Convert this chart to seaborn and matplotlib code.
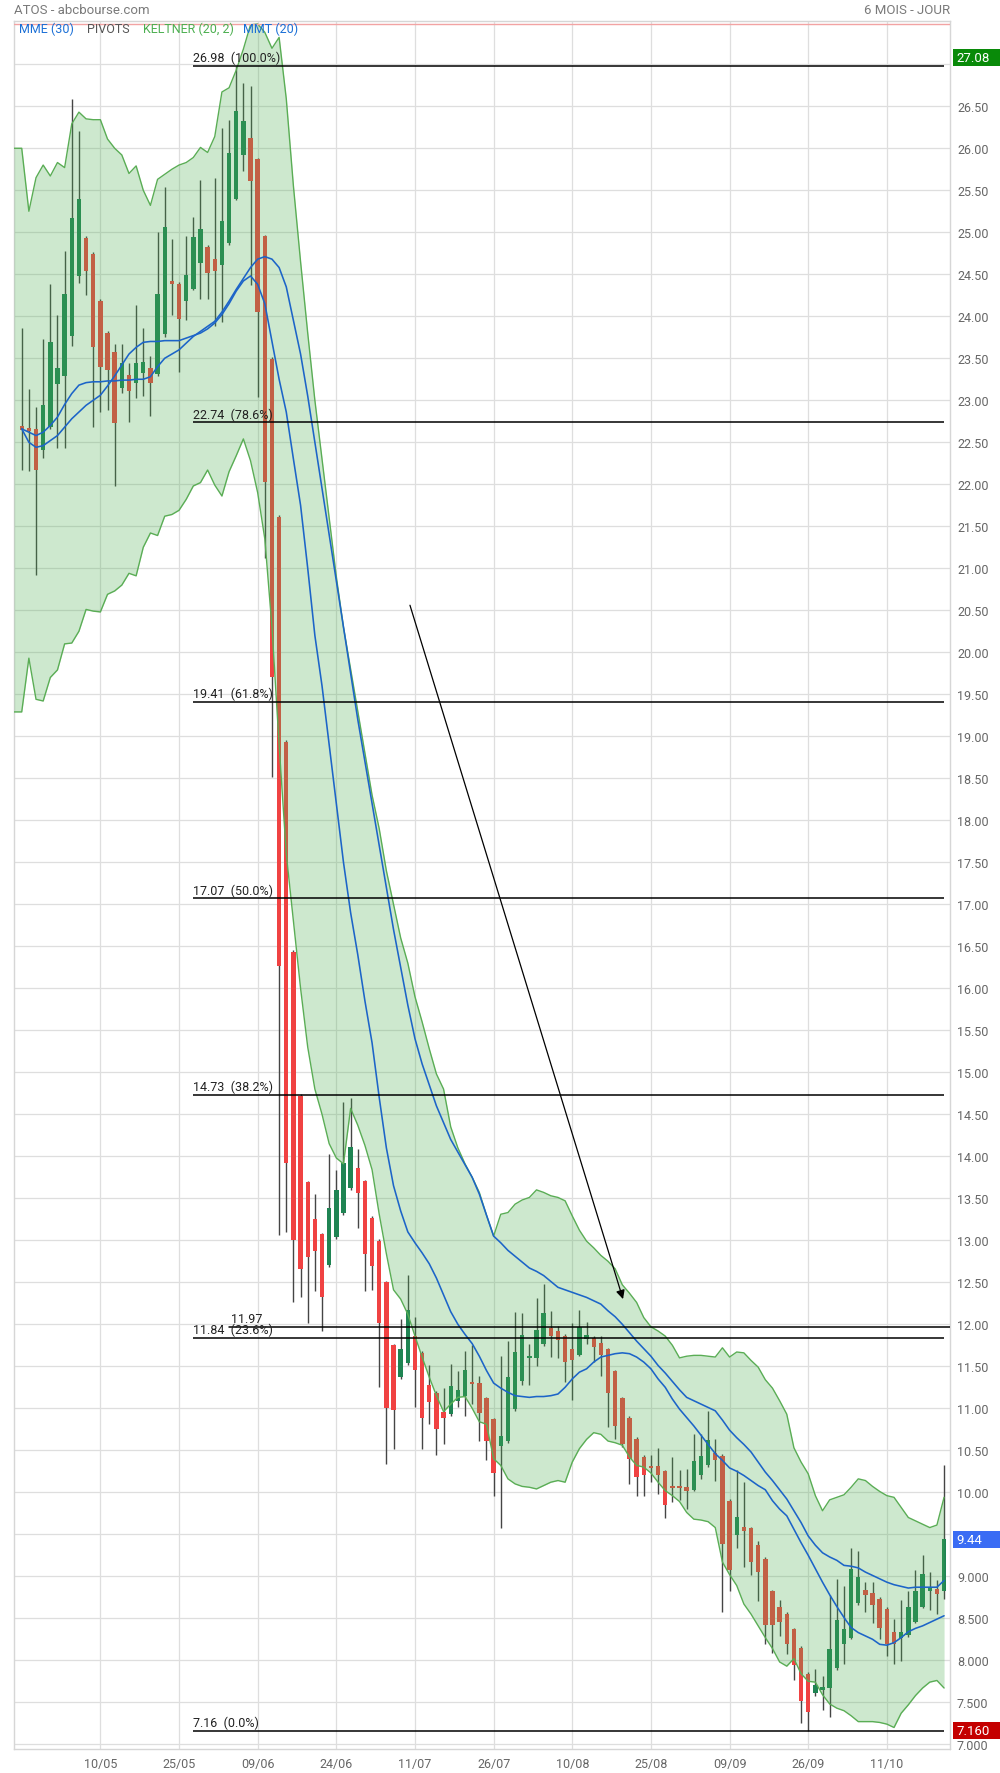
import numpy as np
import pandas as pd
import matplotlib
matplotlib.use("Agg")
import matplotlib.pyplot as plt
import matplotlib.transforms as mtransforms
from matplotlib.patches import Rectangle
import seaborn as sns

# ---------------- data ----------------
first_day = "2022-04-25"

opens = [22.69, 22.67, 22.66, 22.41, 22.68, 23.19, 23.29, 23.77, 24.48, 24.93,
         24.74, 24.18, 23.80, 23.58, 23.15, 23.30, 23.21, 23.32, 23.39, 23.31,
         23.79, 24.42, 24.39, 24.18, 24.33, 24.63, 24.83, 24.68, 24.61, 24.87,
         25.40, 25.92, 26.12, 25.87, 24.95, 23.49, 21.61, 18.93, 16.43, 14.72,
         13.69, 13.25, 13.07, 12.70, 13.04, 13.32, 13.62, 13.86, 13.70, 13.27,
         12.99, 12.50, 11.75, 11.37, 11.54, 11.86, 11.66, 11.28, 11.18, 10.96,
         10.93, 11.09, 11.15, 11.31, 11.30, 11.12, 10.87, 10.55, 10.61, 10.99,
         11.33, 11.60, 11.60, 11.76, 11.96, 11.92, 11.86, 11.70, 11.64, 11.82,
         11.84, 11.78, 11.70, 11.44, 11.12, 10.89, 10.64, 10.42, 10.31, 10.31,
         10.25, 10.06, 10.06, 10.06, 10.03, 10.20, 10.32, 10.47, 10.43, 9.90,
         9.49, 9.59, 9.57, 9.37, 9.21, 8.82, 8.63, 8.55, 8.37, 8.15,
         7.84, 7.61, 7.65, 7.67, 7.91, 8.19, 8.27, 8.68, 8.84, 8.80,
         8.73, 8.61, 8.34, 8.27, 8.30, 8.46, 8.64, 8.83, 8.85, 8.82]
highs = [23.86, 23.13, 22.92, 23.73, 24.38, 24.02, 24.78, 26.59, 26.21, 24.95,
         24.76, 24.20, 23.82, 23.67, 23.67, 23.44, 24.13, 23.86, 23.53, 25.00,
         25.54, 24.92, 24.41, 24.95, 25.18, 25.62, 24.85, 25.65, 26.24, 26.34,
         26.98, 26.78, 26.74, 25.89, 24.97, 23.51, 21.63, 18.95, 16.45, 14.74,
         13.71, 13.55, 13.09, 14.03, 13.84, 14.65, 14.69, 14.09, 13.72, 13.29,
         13.01, 12.52, 11.77, 12.06, 12.59, 12.09, 11.68, 11.51, 11.20, 11.24,
         11.53, 11.44, 11.68, 11.75, 11.38, 11.14, 10.89, 11.62, 11.80, 12.15,
         12.14, 11.76, 12.31, 12.48, 12.16, 11.98, 11.88, 12.01, 12.17, 12.03,
         11.86, 11.86, 11.72, 11.46, 11.14, 10.91, 10.66, 10.44, 10.44, 10.53,
         10.27, 10.42, 10.27, 10.28, 10.69, 10.69, 10.97, 10.63, 10.45, 9.92,
         10.26, 10.12, 9.59, 9.42, 9.23, 8.84, 8.72, 8.57, 8.39, 8.17,
         7.86, 7.90, 7.81, 8.78, 8.97, 8.89, 9.34, 9.30, 8.93, 8.93,
         8.75, 8.63, 8.49, 8.72, 8.83, 9.07, 9.25, 9.05, 8.96, 10.32]
lows = [22.17, 22.16, 20.92, 22.31, 22.66, 22.43, 22.43, 23.65, 24.40, 24.25,
        22.68, 22.86, 22.89, 21.98, 23.09, 22.74, 23.03, 23.05, 22.81, 23.29,
        23.75, 24.02, 23.34, 23.96, 24.31, 24.21, 24.21, 23.89, 23.93, 24.85,
        25.38, 25.73, 24.37, 23.04, 21.12, 18.51, 13.06, 13.10, 12.27, 12.33,
        12.02, 12.40, 11.92, 12.68, 13.02, 13.30, 13.60, 13.15, 12.40, 12.41,
        11.25, 10.34, 10.51, 11.35, 11.52, 11.02, 10.52, 10.81, 10.44, 10.58,
        10.91, 11.01, 10.91, 11.05, 10.61, 10.39, 9.95, 9.57, 10.59, 10.97,
        11.28, 11.28, 11.50, 11.74, 11.61, 11.60, 11.31, 11.10, 11.62, 11.77,
        11.55, 11.39, 10.78, 10.63, 10.54, 10.10, 9.95, 9.96, 10.12, 9.98,
        9.69, 9.89, 9.91, 9.80, 10.01, 10.16, 10.30, 10.13, 8.57, 8.83,
        9.34, 9.11, 9.01, 8.71, 8.19, 8.09, 8.29, 8.07, 7.76, 7.25,
        7.16, 7.58, 7.41, 7.32, 7.89, 7.96, 8.25, 8.66, 8.57, 8.44,
        8.25, 8.05, 7.96, 7.99, 8.28, 8.44, 8.62, 8.60, 8.55, 8.73]
closes = [22.65, 22.64, 22.17, 22.94, 23.69, 23.39, 24.27, 25.17, 25.40, 24.54,
          23.63, 23.40, 23.36, 22.73, 23.44, 23.11, 23.44, 23.46, 23.21, 24.27,
          25.06, 24.38, 23.97, 24.49, 24.94, 25.04, 24.51, 24.54, 25.13, 25.94,
          26.44, 26.32, 25.61, 24.05, 22.03, 19.71, 16.27, 13.92, 13.00, 12.66,
          12.80, 12.87, 12.33, 13.39, 13.60, 13.92, 14.11, 13.56, 12.84, 12.69,
          12.02, 11.00, 10.98, 11.71, 12.17, 11.46, 10.89, 11.08, 10.75, 10.88,
          11.26, 11.22, 11.45, 11.29, 10.94, 10.61, 10.23, 10.67, 11.37, 11.67,
          11.87, 11.62, 11.93, 12.13, 11.86, 11.81, 11.55, 11.58, 11.97, 11.87,
          11.73, 11.63, 11.18, 10.79, 10.57, 10.40, 10.18, 10.20, 10.29, 10.20,
          9.85, 10.05, 10.05, 10.02, 10.37, 10.43, 10.62, 10.38, 9.39, 9.07,
          9.70, 9.54, 9.17, 9.05, 8.42, 8.42, 8.46, 8.19, 7.94, 7.52,
          7.39, 7.71, 7.68, 8.13, 8.48, 8.37, 9.09, 8.99, 8.78, 8.66,
          8.38, 8.19, 8.19, 8.34, 8.63, 8.82, 9.03, 8.85, 8.79, 9.44]

keltner_upper = [26.00, 25.25, 25.65, 25.80, 25.67, 25.83, 25.77, 26.29, 26.43, 26.35,
                 26.34, 26.34, 26.11, 26.00, 25.92, 25.70, 25.79, 25.50, 25.32, 25.63,
                 25.69, 25.75, 25.80, 25.83, 25.89, 26.01, 25.95, 26.14, 26.67, 26.72,
                 26.93, 27.18, 27.47, 27.48, 27.38, 27.19, 27.32, 26.59, 25.55, 24.65,
                 23.80, 23.00, 22.30, 21.60, 20.90, 20.30, 19.80, 19.30, 18.80, 18.30,
                 17.90, 17.40, 17.00, 16.60, 16.30, 15.90, 15.60, 15.28, 14.98, 14.80,
                 14.35, 14.10, 13.91, 13.75, 13.57, 13.30, 13.05, 13.31, 13.33, 13.43,
                 13.48, 13.51, 13.60, 13.57, 13.53, 13.51, 13.47, 13.29, 13.12, 12.99,
                 12.91, 12.82, 12.75, 12.66, 12.47, 12.37, 12.26, 12.08, 11.97, 11.92,
                 11.86, 11.75, 11.60, 11.62, 11.63, 11.63, 11.62, 11.61, 11.72, 11.61,
                 11.67, 11.66, 11.57, 11.49, 11.34, 11.24, 11.09, 10.93, 10.53, 10.36,
                 10.22, 9.96, 9.78, 9.91, 9.94, 9.97, 10.06, 10.16, 10.14, 10.07,
                 10.01, 9.96, 9.94, 9.82, 9.70, 9.66, 9.62, 9.58, 9.61, 9.94]
keltner_lower = [19.29, 19.93, 19.44, 19.42, 19.70, 19.79, 20.10, 20.11, 20.25, 20.51,
                 20.49, 20.48, 20.69, 20.73, 20.80, 20.94, 20.91, 21.25, 21.42, 21.39,
                 21.62, 21.64, 21.69, 21.82, 21.98, 22.02, 22.17, 21.99, 21.86, 22.15,
                 22.34, 22.54, 22.28, 21.90, 21.35, 20.30, 18.90, 17.60, 16.80, 16.00,
                 15.30, 14.80, 14.50, 14.15, 13.98, 13.91, 14.57, 14.37, 14.13, 13.84,
                 13.31, 12.84, 12.41, 12.30, 12.12, 11.86, 11.61, 11.37, 11.15, 10.96,
                 11.05, 11.13, 11.14, 11.00, 10.84, 10.81, 10.40, 10.32, 10.16, 10.10,
                 10.07, 10.06, 10.04, 10.08, 10.12, 10.14, 10.12, 10.36, 10.52, 10.63,
                 10.71, 10.69, 10.61, 10.59, 10.56, 10.42, 10.32, 10.30, 10.23, 10.12,
                 10.02, 9.96, 9.89, 9.76, 9.68, 9.67, 9.65, 9.58, 9.17, 9.02,
                 8.89, 8.67, 8.55, 8.41, 8.27, 8.14, 7.98, 7.93, 8.02, 7.84,
                 7.75, 7.74, 7.59, 7.48, 7.43, 7.40, 7.34, 7.27, 7.27, 7.27,
                 7.26, 7.24, 7.20, 7.37, 7.47, 7.58, 7.67, 7.74, 7.76, 7.67]
mmt_20 = [22.66, 22.50, 22.44, 22.46, 22.52, 22.58, 22.68, 22.78, 22.86, 22.94,
          23.00, 23.06, 23.17, 23.29, 23.42, 23.55, 23.63, 23.69, 23.70, 23.70,
          23.71, 23.71, 23.71, 23.74, 23.77, 23.80, 23.85, 23.92, 24.02, 24.15,
          24.30, 24.42, 24.48, 24.38, 24.15, 23.70, 23.25, 22.86, 22.30, 21.75,
          21.00, 20.20, 19.60, 18.90, 18.20, 17.50, 16.90, 16.40, 15.85, 15.35,
          14.70, 14.10, 13.65, 13.35, 13.10, 12.97, 12.85, 12.72, 12.55, 12.35,
          12.15, 12.00, 11.88, 11.77, 11.62, 11.45, 11.30, 11.24, 11.19, 11.15,
          11.14, 11.13, 11.14, 11.14, 11.15, 11.17, 11.25, 11.35, 11.43, 11.47,
          11.55, 11.61, 11.63, 11.65, 11.66, 11.65, 11.61, 11.55, 11.47, 11.35,
          11.25, 11.11, 10.99, 10.89, 10.79, 10.68, 10.57, 10.46, 10.38, 10.29,
          10.25, 10.20, 10.14, 10.08, 10.03, 9.90, 9.80, 9.72, 9.56, 9.40,
          9.25, 9.09, 8.93, 8.78, 8.64, 8.51, 8.39, 8.33, 8.29, 8.25,
          8.19, 8.18, 8.21, 8.27, 8.34, 8.38, 8.41, 8.45, 8.49, 8.53]
mme_30 = [22.66, 22.62, 22.58, 22.62, 22.70, 22.80, 22.95, 23.08, 23.18, 23.21,
          23.22, 23.22, 23.23, 23.23, 23.24, 23.24, 23.25, 23.25, 23.28, 23.40,
          23.50, 23.55, 23.60, 23.68, 23.76, 23.82, 23.88, 23.94, 24.05, 24.18,
          24.32, 24.45, 24.58, 24.68, 24.71, 24.68, 24.58, 24.35, 23.95, 23.55,
          23.05, 22.50, 21.95, 21.40, 20.85, 20.30, 19.75, 19.20, 18.70, 18.20,
          17.70, 17.20, 16.70, 16.25, 15.80, 15.40, 15.10, 14.85, 14.60, 14.40,
          14.20, 14.05, 13.90, 13.75, 13.55, 13.30, 13.05, 12.97, 12.88, 12.81,
          12.74, 12.67, 12.63, 12.58, 12.51, 12.44, 12.41, 12.38, 12.35, 12.32,
          12.28, 12.24, 12.16, 12.09, 12.00, 11.90, 11.80, 11.71, 11.62, 11.51,
          11.42, 11.32, 11.22, 11.13, 11.09, 11.05, 11.01, 10.97, 10.86, 10.74,
          10.65, 10.57, 10.48, 10.36, 10.24, 10.14, 10.03, 9.92, 9.78, 9.64,
          9.48, 9.37, 9.28, 9.23, 9.19, 9.13, 9.12, 9.10, 9.05, 9.01,
          8.97, 8.93, 8.90, 8.88, 8.86, 8.87, 8.87, 8.87, 8.87, 8.95]

x_tick_labels = ["10/05", "25/05", "09/06", "24/06", "11/07", "26/07",
                 "10/08", "25/08", "09/09", "26/09", "11/10"]
y_tick_values = [7.0 + 0.5 * k for k in range(40)]
y_tick_labels = ["7.000", "7.500", "8.000", "8.500", "9.000", "9.50"] + \
    ["%.2f" % v for v in y_tick_values[6:]]

fib_levels = [26.98, 22.74, 19.41, 17.07, 14.73, 11.84, 7.16]
fib_pcts = ["100.0%", "78.6%", "61.8%", "50.0%", "38.2%", "23.6%", "0.0%"]
fib_anchor_idx = [24, 129]          # candle indices where the retracement is drawn
pivot_level = 11.97
pivot_start_idx = 29
top_line_level = 27.48
arrow_from = (54.3, 20.56)          # (candle index, price)
arrow_to = (84.1, 12.30)
last_price = 9.44
low_price = 7.16
high_marker = 27.08

# ---------------- frame ----------------
n = len(opens)
dates = pd.bdate_range(first_day, periods=n)
df = pd.DataFrame({
    "idx": np.arange(n), "open": opens, "high": highs, "low": lows, "close": closes,
    "up": keltner_upper, "lo": keltner_lower, "mmt": mmt_20, "mme": mme_30,
})

sns.set_theme(style="white")
plt.rcParams["font.family"] = ["Roboto", "DejaVu Sans"]

W, H = 1000, 1774
fig = plt.figure(figsize=(W / 100, H / 100), dpi=100)
ax_left, ax_right, ax_top, ax_bot = 14, 950, 22, 1750
ax = fig.add_axes([ax_left / W, 1 - ax_bot / H, (ax_right - ax_left) / W, (ax_bot - ax_top) / H])

xmin, xmax = -1.08, 129.83
ymin, ymax = 6.944, 27.515
ax.set_xlim(xmin, xmax)
ax.set_ylim(ymin, ymax)

# grid
grid_c = "#dedede"
for v in y_tick_values + [27.0]:
    ax.axhline(v, color=grid_c, lw=0.9, zorder=0)
date_str = list(dates.strftime("%d/%m"))
x_tick_pos = [date_str.index(l) for l in x_tick_labels]
for p in x_tick_pos:
    ax.axvline(p, color=grid_c, lw=0.9, zorder=0)

# candles
up_col, dn_col, wick_col = "#1f8453", "#f04242", "#454545"
is_up = df["close"] >= df["open"]
ax.vlines(df["idx"], df["low"], df["high"], color=wick_col, lw=1.0, zorder=2)
body_lo = np.minimum(df["open"], df["close"])
body_h = np.maximum(np.abs(df["close"] - df["open"]), 0.025)
ax.bar(df["idx"], body_h, bottom=body_lo, width=0.62,
       color=np.where(is_up, up_col, dn_col), edgecolor="none", zorder=2)

# Keltner band (drawn over the candles, translucent)
xb = np.r_[xmin, df["idx"].values]
upb = np.r_[df["up"].iloc[0], df["up"].values]
lob = np.r_[df["lo"].iloc[0], df["lo"].values]
ax.fill_between(xb, lob, upb, color=(76 / 255, 175 / 255, 80 / 255), alpha=0.28, lw=0, zorder=3)
ax.plot(xb, upb, color="#5aad55", lw=1.0, zorder=4)
ax.plot(xb, lob, color="#5aad55", lw=1.0, zorder=4)

# moving averages
sns.lineplot(data=df, x="idx", y="mme", ax=ax, color="#1c64c8", lw=1.15, zorder=5)
sns.lineplot(data=df, x="idx", y="mmt", ax=ax, color="#1c64c8", lw=1.15, zorder=5)

# Fibonacci retracement
for lvl, pct in zip(fib_levels, fib_pcts):
    ax.plot(fib_anchor_idx, [lvl, lvl], color="black", lw=1.1, zorder=6,
            solid_capstyle="butt")
    tr = mtransforms.offset_copy(ax.transData, fig=fig, x=0, y=1.5, units="dots")
    ax.text(fib_anchor_idx[0], lvl, "%.2f  (%s)" % (lvl, pct), transform=tr,
            ha="left", va="bottom", fontsize=9, color="#222222", zorder=7)
ax.plot([pivot_start_idx, xmax], [pivot_level, pivot_level], color="black", lw=1.1, zorder=6)
tr = mtransforms.offset_copy(ax.transData, fig=fig, x=0, y=1.5, units="dots")
ax.text(pivot_start_idx + 2.5, pivot_level, "%.2f" % pivot_level, transform=tr,
        ha="center", va="bottom", fontsize=9, color="#222222", zorder=7)

# top red line
ax.axhline(top_line_level, color="#f2a3a3", lw=1.0, zorder=6)

# arrow
ax.annotate("", xy=arrow_to, xytext=arrow_from,
            arrowprops=dict(arrowstyle="-|>", color="black", lw=0.9,
                            mutation_scale=13, shrinkA=0, shrinkB=0), zorder=7)

# axes styling
ax.set_xlabel("")
ax.set_ylabel("")
ax.yaxis.tick_right()
ax.set_yticks(y_tick_values)
ax.set_yticklabels(y_tick_labels)
ax.set_xticks(x_tick_pos)
ax.set_xticklabels(x_tick_labels)
ax.tick_params(axis="y", length=0, pad=5, labelsize=9, labelcolor="#666666")
ax.tick_params(axis="x", length=0, pad=6, labelsize=9, labelcolor="#666666")
for s in ax.spines.values():
    s.set_color("#d6d6d6")
    s.set_linewidth(1.0)

# cover for the clipped bottom y-label
fig.add_artist(Rectangle((ax_right / W + 0.001, 0), 1, (H - ax_bot - 0.5) / H,
                         transform=fig.transFigure, facecolor="white",
                         edgecolor="none", zorder=3))

# price boxes on the right axis
blend = mtransforms.blended_transform_factory(fig.transFigure, ax.transData)
box_h = 17 / ((ax_bot - ax_top) / (ymax - ymin))
for val, txt, col in [(high_marker, "%.2f" % high_marker, "#098a09"),
                      (last_price, "%.2f" % last_price, "#3a6cf4"),
                      (low_price, "%.3f" % low_price, "#c40000")]:
    fig.add_artist(Rectangle((953 / W, val - box_h / 2), 47 / W, box_h, transform=blend,
                             facecolor=col, edgecolor="none", zorder=5, clip_on=False))
    fig.text(956 / W, val, txt, transform=blend, ha="left", va="center",
             fontsize=9.5, color="white", zorder=6)

# header texts
fig.text(14 / W, 1 - 10 / H, "ATOS - abcbourse.com", ha="left", va="center",
         fontsize=9.5, color="#7a7a7a")
fig.text(950 / W, 1 - 10 / H, "6 MOIS - JOUR", ha="right", va="center",
         fontsize=9.5, color="#7a7a7a")
legend_items = [("MME (30)", "#1a6fd6", 19), ("PIVOTS", "#555555", 87),
                ("KELTNER (20, 2)", "#4caf50", 143), ("MMT (20)", "#1a6fd6", 243)]
for txt, col, xp in legend_items:
    fig.text(xp / W, 1 - 29.5 / H, txt, ha="left", va="center", fontsize=9, color=col, zorder=8)

fig.savefig("out.png", dpi=100, facecolor="white")
